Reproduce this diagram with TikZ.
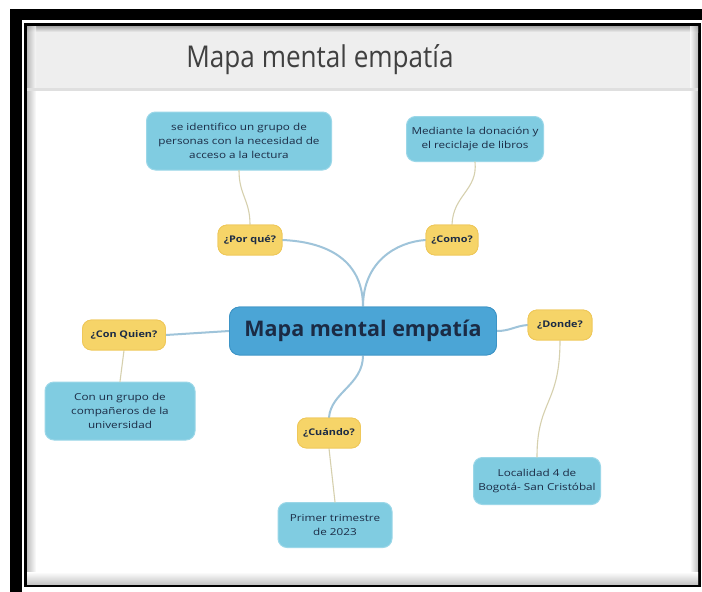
\documentclass[tikz,border=0pt]{standalone}
\usepackage{fontspec}
\setmainfont{Open Sans}
\newfontfamily\widefont[FakeStretch=1.22]{Open Sans}
\newfontfamily\qfont[FakeStretch=1.18]{Open Sans}
\definecolor{cblue}{HTML}{4BA5D6}
\definecolor{cbluedk}{HTML}{3D94C6}
\definecolor{lblue}{HTML}{80CCE1}
\definecolor{lbluedk}{HTML}{9BD7E8}
\definecolor{qyel}{HTML}{F6D468}
\definecolor{qyeldk}{HTML}{EFC85A}
\definecolor{navy}{HTML}{1B2B45}
\definecolor{mainline}{HTML}{9FC4DA}
\definecolor{subline}{HTML}{D6D0AE}
\definecolor{hdr}{HTML}{EEEEEE}
\tikzset{
  centralbox/.style={rounded corners=10pt, fill=cblue, draw=cbluedk, line width=0.8pt,
    text=navy, font=\bfseries\fontsize{21.5}{24}\selectfont,
    minimum width=267pt, minimum height=48pt, inner sep=0pt},
  leafbox/.style={rounded corners=9pt, fill=lblue, draw=lbluedk, line width=1pt,
    text=navy, align=center, font=\widefont\fontsize{9.6}{14}\selectfont, inner sep=0pt},
  qbox/.style={rounded corners=9pt, fill=qyel, draw=qyeldk, line width=0.8pt,
    text=navy, font=\qfont\bfseries\fontsize{9.2}{11}\selectfont,
    minimum height=30pt, inner sep=0pt},
  mainlink/.style={draw=mainline, line width=2pt, line cap=round},
  sublink/.style={draw=subline, line width=1.1pt, line cap=round}
}
\begin{document}
\begin{tikzpicture}[x=1pt,y=-1pt]
\useasboundingbox (0,0) rectangle (702,592);
\fill[white] (0,0) rectangle (702,592);
% outer black frame
\fill[black] (10,9) rectangle (702,592);
\fill[white] (22,20) rectangle (702,592);
% inner frame
\fill[black] (24,23) rectangle (701,587);
\fill[white] (27,26) rectangle (698,584);
% header band
\fill[hdr] (27,26) rectangle (698,90);
\shade[top color=gray!70, bottom color=hdr] (27,26) rectangle (698,32);
\shade[left color=gray!70, right color=white, opacity=0.7] (27,26) rectangle (36,584);
\shade[left color=white, right color=gray!70, opacity=0.7] (690,26) rectangle (698,584);
\fill[gray!25] (27,88) rectangle (698,91);
% bottom strip
\shade[top color=white, bottom color=gray!45] (27,572) rectangle (698,584);
% title
\node[text=black!75, font=\fontsize{30}{32}\selectfont] (title) at (320,60) {\scalebox{0.87}[1]{Mapa mental empatía}};

% nodes
\node[centralbox] (c) at (363,331) {Mapa mental empatía};

\node[qbox, minimum width=64pt] (pq) at (250,240) {¿Por qué?};
\node[qbox, minimum width=52pt] (co) at (452,240) {¿Como?};
\node[qbox, minimum width=83pt] (cq) at (124,335) {¿Con Quien?};
\node[qbox, minimum width=64pt] (dn) at (560,325) {¿Donde?};
\node[qbox, minimum width=63pt] (cu) at (329,433) {¿Cuándo?};

\node[leafbox, minimum width=185pt, minimum height=58pt] (b1) at (239,141)
  {se identifico un grupo de\\personas con la necesidad de\\acceso a la lectura};
\node[leafbox, minimum width=137pt, minimum height=45pt] (b2) at (475,139)
  {Mediante la donación y\\el reciclaje de libros};
\node[leafbox, minimum width=150pt, minimum height=58pt] (b3) at (120,411)
  {Con un grupo de\\compañeros de la\\universidad};
\node[leafbox, minimum width=127pt, minimum height=47pt] (b4) at (537,481)
  {Localidad 4 de\\Bogotá- San Cristóbal};
\node[leafbox, minimum width=114pt, minimum height=45pt] (b5) at (335,525)
  {Primer trimestre\\de 2023};

% main connectors
\path[mainlink] (c.north) .. controls (363,262) and (330,242) .. (pq.east);
\path[mainlink] (c.north) .. controls (363,262) and (396,242) .. (co.west);
\path[mainlink] (c.west) -- (cq.east);
\path[mainlink] (c.east) .. controls (510,331) and (515,326) .. (dn.west);
\path[mainlink] (c.south) .. controls (363,385) and (331,392) .. (cu.north);

% sub connectors
\path[sublink] (pq.north) .. controls (250,200) and (239,195) .. (b1.south);
\path[sublink] (co.north) .. controls (453,195) and (478,190) .. (b2.south);
\path[sublink] (cq.south) -- (b3.north);
\path[sublink] (dn.south) .. controls (560,405) and (537,400) .. (b4.north);
\path[sublink] (cu.south) -- (b5.north);

% redraw nodes on top of connectors
\node[centralbox] at (c) {Mapa mental empatía};
\node[qbox, minimum width=64pt] at (pq) {¿Por qué?};
\node[qbox, minimum width=52pt] at (co) {¿Como?};
\node[qbox, minimum width=83pt] at (cq) {¿Con Quien?};
\node[qbox, minimum width=64pt] at (dn) {¿Donde?};
\node[qbox, minimum width=63pt] at (cu) {¿Cuándo?};
\end{tikzpicture}
\end{document}
